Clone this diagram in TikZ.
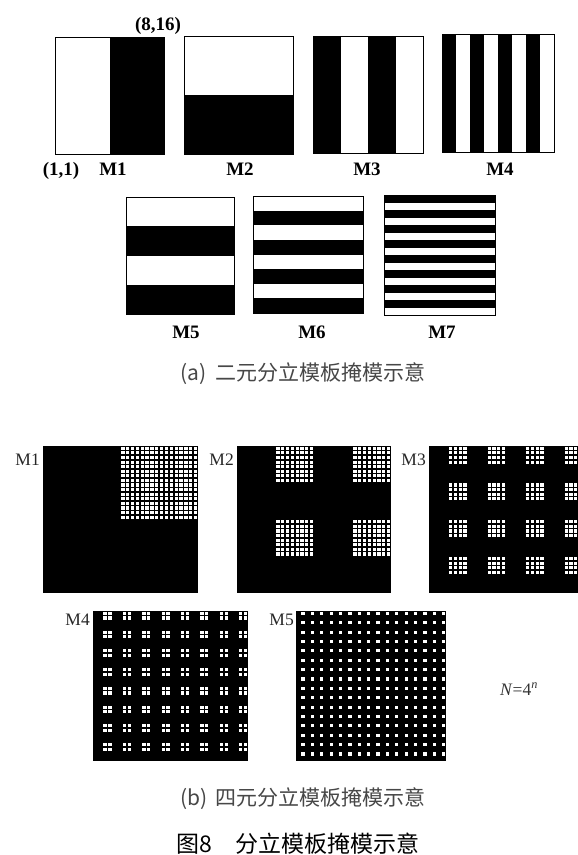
\documentclass[tikz,border=0pt]{standalone}
\usepackage{fontspec}
\setmainfont{Liberation Serif}
\newfontfamily\cjk{Noto Sans CJK SC}
\usepackage{tikz}

% binary masks: x, y, w, h, stripes, first black stripe (0 or 1)
\newcommand\vstripes[6]{%
  \pgfmathsetmacro\sw{#3/#5}%
  \pgfmathtruncatemacro\nh{#5/2}%
  \foreach \i in {1,...,\nh}
    \fill[black] ({#1+(2*\i-2+#6)*\sw},#2) rectangle ++(\sw,#4);
  \draw[frame] (#1,#2) rectangle ++(#3,#4);
}
\newcommand\hstripes[6]{%
  \pgfmathsetmacro\sw{#4/#5}%
  \pgfmathtruncatemacro\nh{#5/2}%
  \foreach \i in {1,...,\nh}
    \fill[black] (#1,{#2+(2*\i-2+#6)*\sw}) rectangle ++(#3,\sw);
  \draw[frame] (#1,#2) rectangle ++(#3,#4);
}
% quaternary masks: x, y, w, h, blocks per side
\newcommand\maskpanel[5]{%
  \fill[black] (#1,#2) rectangle ++(#3,#4);
  \pgfmathsetmacro\cellw{#3/32}\pgfmathsetmacro\cellh{#4/32}%
  \pgfmathtruncatemacro\dpb{32/#5}\pgfmathtruncatemacro\dpbl{32/#5-1}%
  \pgfmathtruncatemacro\nh{#5/2}%
  \foreach \bc in {1,...,\nh}
    \foreach \br in {1,...,\nh}
      \foreach \dx in {0,...,\dpbl}
        \foreach \dy in {0,...,\dpbl}
          \fill[white] ({#1+((2*\bc-1)*\dpb+\dx+0.16)*\cellw},{#2+((2*\br-2)*\dpb+\dy+0.16)*\cellh})
            rectangle ++({0.68*\cellw},{0.68*\cellh});
}

\begin{document}
\begin{tikzpicture}[
  x=1pt, y=-1pt,
  frame/.style={draw=black, line width=1pt},
  lab/.style={font=\fontsize{19}{22}\selectfont\bfseries, inner sep=0pt, anchor=base},
  labq/.style={font=\fontsize{17.5}{20}\selectfont, inner sep=0pt, anchor=base east, text=black!85},
  captext/.style={font=\cjk\fontsize{21}{24}\selectfont, text=black!72, inner sep=0pt}
]
\useasboundingbox (0,0) rectangle (578,855);

% (a) binary masks
\vstripes{55}{37}{109}{117}{2}{1}
\hstripes{184}{36}{109}{118}{2}{1}
\vstripes{313}{36}{110}{117}{4}{0}
\vstripes{442}{34}{112}{118}{8}{0}
\hstripes{126}{197}{108}{117}{4}{1}
\hstripes{253}{196}{110}{117}{8}{1}
\hstripes{384}{195}{111}{120}{16}{0}

\node[lab] (c816) at (158,30) {(8,16)};
\node[lab] (c11) at (61,175) {(1,1)};
\node[lab] (a1) at (113,175) {M1};
\node[lab] (a2) at (240,175) {M2};
\node[lab] (a3) at (367,175) {M3};
\node[lab] (a4) at (500,175) {M4};
\node[lab] (a5) at (186,338) {M5};
\node[lab] (a6) at (312,338) {M6};
\node[lab] (a7) at (442,338) {M7};

\node[captext] (capa) at (303,374) {(a)\, 二元分立模板掩模示意};

% (b) quaternary masks
\maskpanel{43}{446}{155}{147}{2}
\maskpanel{237}{446}{154}{147}{4}
\begin{scope}
  \clip (0,0) rectangle (578,855);
  \maskpanel{429}{446}{154}{147}{8}
\end{scope}
\maskpanel{93}{611}{155}{150}{16}
\maskpanel{296}{611}{150}{150}{32}

\node[labq] (b1) at (40,465) {M1};
\node[labq] (b2) at (234,465) {M2};
\node[labq] (b3) at (426,465) {M3};
\node[labq] (b4) at (90,625) {M4};
\node[labq] (b5) at (294,625) {M5};
\node[labq, anchor=base west, text=black!80] (nn) at (500,695) {\textit{N}=4\textsuperscript{\textit{n}}};

\node[captext] (capb) at (303,799) {(b)\, 四元分立模板掩模示意};
\node[captext, text=black, font=\cjk\fontsize{23}{26}\selectfont] (title) at (298,844) {图8\quad 分立模板掩模示意};
\end{tikzpicture}
\end{document}
